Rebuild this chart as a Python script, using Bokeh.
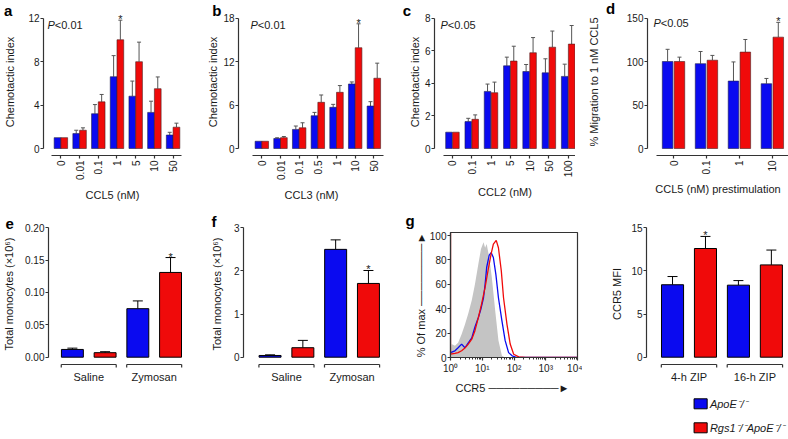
import math
from bokeh.plotting import figure
from bokeh.models import (ColumnDataSource, Whisker, TeeHead, Label, FixedTicker, Range1d)
from bokeh.layouts import row, column
from bokeh.embed import file_html
from bokeh.resources import INLINE
from bokeh.core.properties import value

FONT = "Liberation Sans"
BLUE = "#0a0af0"
RED = "#f00a0a"
INK = "#1a1a1a"
AXIS = "#333333"

# ---------------- data ----------------
a_conc = ["0", "0.01", "0.1", "1", "5", "10", "50"]
a_blue = [1.0, 1.37, 3.2, 6.6, 4.81, 3.32, 1.24]
a_blue_err = [0.0, 0.31, 0.84, 1.94, 1.39, 1.03, 0.25]
a_red = [1.0, 1.68, 4.29, 10.0, 7.98, 5.5, 1.96]
a_red_err = [0.0, 0.22, 0.68, 1.8, 1.8, 1.08, 0.37]
a_star = [3]
a_yticks = [0, 4, 8, 12]

b_conc = ["0", "0.01", "0.1", "0.5", "1", "10", "50"]
b_blue = [1.0, 1.38, 2.63, 4.52, 5.68, 8.9, 5.86]
b_blue_err = [0.0, 0.1, 0.47, 0.46, 0.41, 0.28, 0.6]
b_red = [1.0, 1.5, 2.86, 6.37, 7.75, 13.9, 9.69]
b_red_err = [0.0, 0.15, 0.69, 1.01, 0.93, 3.3, 2.08]
b_star = [5]
b_yticks = [0, 6, 12, 18]

c_conc = ["0", "0.1", "1", "5", "10", "50", "100"]
c_blue = [1.0, 1.65, 3.5, 5.07, 4.72, 4.64, 4.42]
c_blue_err = [0.0, 0.2, 0.45, 0.53, 0.43, 0.86, 0.75]
c_red = [1.0, 1.79, 3.42, 5.36, 5.87, 6.21, 6.4]
c_red_err = [0.0, 0.27, 0.65, 0.91, 0.93, 0.99, 1.14]
c_star = []
c_yticks = [0, 2, 4, 6, 8]

d_conc = ["0", "0.1", "1", "10"]
d_blue = [100, 97.5, 77.5, 74.5]
d_blue_err = [14, 14, 22, 6]
d_red = [100, 101.5, 110.8, 128]
d_red_err = [5, 5.5, 14.5, 17]
d_star = [3]
d_yticks = [0, 50, 100, 150]

e_groups = ["Saline", "Zymosan"]
e_blue = [0.012, 0.075]
e_blue_err = [0.002, 0.012]
e_red = [0.007, 0.131]
e_red_err = [0.0015, 0.023]
e_star = [1]
e_yticks = [0, 0.05, 0.10, 0.15, 0.20]
e_ytick_labels = ["0.00", "0.05", "0.10", "0.15", "0.20"]

f_groups = ["Saline", "Zymosan"]
f_blue = [0.04, 2.5]
f_blue_err = [0.015, 0.22]
f_red = [0.22, 1.71]
f_red_err = [0.17, 0.3]
f_star = [1]
f_yticks = [0, 1, 2, 3]
f_ytick_labels = ["0", "1", "2", "3"]

h_groups = ["4-h ZIP", "16-h ZIP"]
h_blue = [8.4, 8.35]
h_blue_err = [0.95, 0.53]
h_red = [12.6, 10.7]
h_red_err = [1.4, 1.72]
h_star = [0]
h_yticks = [0, 5, 10, 15]
h_ytick_labels = ["0", "5", "10", "15"]

# flow cytometry histogram (log10 CCR5 intensity, % of max)
g_iso_log = [0.0, 0.03, 0.14, 0.24, 0.35, 0.455, 0.56, 0.67, 0.77, 0.88, 0.96, 1.04,
             1.09, 1.14, 1.22, 1.30, 1.41, 1.51, 1.62, 1.72]
g_iso_pct = [4, 11, 9.6, 12, 19, 27, 36, 47, 60, 77, 89, 94.5, 90, 93, 82, 66, 38, 14, 1.4, 0]
g_apoe_log = [0.0, 0.14, 0.24, 0.35, 0.455, 0.56, 0.67, 0.77, 0.88, 0.96, 1.04, 1.09, 1.14,
              1.22, 1.28, 1.35, 1.43, 1.51, 1.62, 1.72, 1.83, 1.94, 2.1, 4.0]
g_apoe_pct = [4, 5.5, 8, 11, 8, 12, 16, 25, 33, 40, 49, 60, 74, 84, 86, 82, 68, 49, 30, 14,
              4, 1.4, 0, 0]
g_rgs_log = [0.0, 0.0, 0.14, 0.24, 0.35, 0.455, 0.56, 0.67, 0.77, 0.88, 0.98, 1.09, 1.2, 1.28,
             1.35, 1.44, 1.51, 1.6, 1.67, 1.78, 1.88, 1.99, 2.15, 2.36, 4.0]
g_rgs_pct = [102, 2.7, 3.3, 4, 5.5, 7.7, 11, 15, 22, 33, 44, 57.5, 74, 85, 93, 96, 90, 71, 49,
             27, 11, 2.7, 0.5, 0, 0]
g_xticks = [1, 10, 100, 1000, 10000]
g_xtick_labels = ["10\u2070", "10\u00b9", "10\u00b2", "10\u00b3", "10\u2074"]
g_yticks = [0, 20, 40, 60, 80, 100]

legend_labels = ["ApoE\u207b/\u207b", "Rgs1\u207b/\u207bApoE\u207b/\u207b"]
legend_colors = [BLUE, RED]


# ---------------- helpers ----------------
class Frame:
    """pixel -> data mapping of a figure's frame (for placing annotations)."""
    def __init__(self, width, height, left, right, top, bottom, xr, yr, logx=False):
        self.fl, self.fr = left, width - right
        self.ft, self.fb = top, height - bottom
        self.xr, self.yr, self.logx = xr, yr, logx

    def x(self, px):
        x0, x1 = self.xr
        if self.logx:
            x0, x1 = math.log10(x0), math.log10(x1)
        v = x0 + (px - self.fl) * (x1 - x0) / (self.fr - self.fl)
        return 10 ** v if self.logx else v

    def y(self, py):
        y0, y1 = self.yr
        return y0 + (self.fb - py) * (y1 - y0) / (self.fb - self.ft)


def style_axes(p):
    p.grid.visible = False
    p.outline_line_color = None
    for ax in p.axis:
        ax.axis_line_color = AXIS
        ax.axis_line_width = 1.2
        ax.major_tick_line_color = AXIS
        ax.major_tick_line_width = 1.2
        ax.major_tick_in = 0
        ax.major_tick_out = 3
        ax.minor_tick_line_color = None
        ax.major_label_text_font = FONT
        ax.major_label_text_font_size = "10px"
        ax.major_label_text_color = INK
        ax.major_label_standoff = 1
        ax.axis_label_text_font = FONT
        ax.axis_label_text_font_size = "11px"
        ax.axis_label_text_font_style = "normal"
        ax.axis_label_text_color = INK


def add_letter(p, fr, letter, px, py, side):
    p.add_layout(Label(x=fr.x(px), y=fr.y(py), text=letter, text_font=FONT,
                       text_font_size="15px", text_font_style="bold", text_color="black",
                       text_baseline="alphabetic"), side)


def add_pvalue(p, text, x_off, y_data):
    p.add_layout(Label(x=x_off, y=y_data, x_units="screen", y_units="data", text="P",
                       text_font=FONT, text_font_size="11px", text_font_style="italic",
                       text_color=INK, text_baseline="middle"))
    p.add_layout(Label(x=x_off + 7.3, y=y_data, x_units="screen", y_units="data", text=text,
                       text_font=FONT, text_font_size="11px", text_color=INK,
                       text_baseline="middle"))


def add_errors(p, xs, means, errs, color, cap, lw):
    keep = [i for i, e in enumerate(errs) if e > 0]
    src = ColumnDataSource(dict(x=[xs[i] for i in keep],
                                lower=[means[i] for i in keep],
                                upper=[means[i] + errs[i] for i in keep]))
    p.add_layout(Whisker(source=src, base="x", lower="lower", upper="upper",
                         dimension="height", line_color=color, line_width=lw,
                         lower_head=None,
                         upper_head=TeeHead(size=cap, line_color=color, line_width=lw)))


def add_stars(p, xs, means, errs, idxs):
    if not idxs:
        return
    p.text(x=[xs[i] for i in idxs], y=[means[i] + errs[i] for i in idxs],
           text=["*"] * len(idxs), text_align="center", text_baseline="alphabetic",
           text_font=value(FONT), text_font_size="11px", text_color=INK, y_offset=-1)


TOP_H = 205
TOP_FT = 8
TOP_FB = 50


def top_panel(cats, blue, blue_err, red, red_err, stars, yticks, ylabel, xlabel, pval,
              width, left, right, xr, ax0, ax1, bar_w, off, ylab_standoff, p_x, p_y,
              letter, lx, ly, letter_side="left"):
    ytop = yticks[-1]
    yr = (-0.0536 * ytop, 1.0728 * ytop)
    p = figure(width=width, height=TOP_H, output_backend="svg", toolbar_location=None,
               x_range=Range1d(*xr), y_range=Range1d(*yr),
               min_border_left=left, min_border_right=right, min_border_top=TOP_FT,
               min_border_bottom=TOP_FB)
    fr = Frame(width, TOP_H, left, right, TOP_FT, TOP_FB, xr, yr)
    idx = list(range(len(cats)))
    bx = [i - off for i in idx]
    rx = [i + off for i in idx]
    p.vbar(x=bx, top=blue, bottom=0, width=bar_w, fill_color=BLUE, line_color="#20204a",
           line_width=0.6)
    p.vbar(x=rx, top=red, bottom=0, width=bar_w, fill_color=RED, line_color="#4a2020",
           line_width=0.6)
    add_errors(p, bx, blue, blue_err, "#555555", 4, 1)
    add_errors(p, rx, red, red_err, "#555555", 4, 1)
    add_stars(p, rx, red, red_err, stars)
    style_axes(p)
    p.xaxis.bounds = (ax0, ax1)
    p.xaxis.ticker = FixedTicker(ticks=idx)
    p.xaxis.major_label_overrides = {i: c for i, c in enumerate(cats)}
    p.xaxis.major_label_orientation = math.pi / 2
    p.xaxis.major_label_standoff = 2
    p.xaxis.axis_label = xlabel
    p.xaxis.axis_label_standoff = 6
    p.yaxis.bounds = (0, ytop)
    p.yaxis.ticker = FixedTicker(ticks=yticks)
    p.yaxis.axis_label = ylabel
    p.yaxis.axis_label_standoff = ylab_standoff
    add_pvalue(p, pval, p_x, p_y * ytop)
    add_letter(p, fr, letter, lx, ly, letter_side)
    return p


BOT_FT = 14


def bottom_panel(groups, blue, blue_err, red, red_err, stars, yticks, ytick_labels, ylabel,
                 width, height, left, bottom_border, xr, ylab_standoff, letter=None, lx=0, ly=0):
    T = yticks[-1]
    yr = (-0.0873 * T, 1.0641 * T)
    p = figure(width=width, height=height, output_backend="svg", toolbar_location=None,
               x_range=Range1d(*xr), y_range=Range1d(*yr),
               min_border_left=left, min_border_right=0, min_border_top=BOT_FT,
               min_border_bottom=bottom_border)
    fr = Frame(width, height, left, 0, BOT_FT, bottom_border, xr, yr)
    bx = [2 * g for g in range(len(groups))]
    rx = [2 * g + 1 for g in range(len(groups))]
    p.vbar(x=bx, top=blue, bottom=0, width=0.67, fill_color=BLUE, line_color="black",
           line_width=1)
    p.vbar(x=rx, top=red, bottom=0, width=0.67, fill_color=RED, line_color="black",
           line_width=1)
    add_errors(p, bx, blue, blue_err, "black", 10, 1)
    add_errors(p, rx, red, red_err, "black", 10, 1)
    add_stars(p, rx, red, red_err, stars)
    # group brackets
    yb = -0.0564 * T
    yt = -0.0796 * T
    x0 = [b - 0.34 for b in bx]
    x1 = [r + 0.34 for r in rx]
    n = len(x0)
    p.segment(x0=x0, y0=[yb] * n, x1=x1, y1=[yb] * n, line_color=AXIS, line_width=1.2)
    p.segment(x0=x0 + x1, y0=[yb] * (2 * n), x1=x0 + x1, y1=[yt] * (2 * n),
              line_color=AXIS, line_width=1.2)
    style_axes(p)
    centers = [2 * g + 0.5 for g in range(len(groups))]
    p.xaxis.ticker = FixedTicker(ticks=centers)
    p.xaxis.major_label_overrides = {c: g for c, g in zip(centers, groups)}
    p.xaxis.axis_line_color = None
    p.xaxis.major_tick_line_color = None
    p.xaxis.major_tick_out = 0
    p.xaxis.major_label_standoff = 2
    p.xaxis.major_label_text_font_size = "11px"
    p.yaxis.bounds = (0, T)
    p.yaxis.ticker = FixedTicker(ticks=yticks)
    p.yaxis.major_label_overrides = {t: s for t, s in zip(yticks, ytick_labels)}
    p.yaxis.axis_label = ylabel
    p.yaxis.axis_label_standoff = ylab_standoff
    if letter:
        add_letter(p, fr, letter, lx, ly, "below")
    return p


# ---------------- top row ----------------
pa = top_panel(a_conc, a_blue, a_blue_err, a_red, a_red_err, a_star, a_yticks,
               "Chemotactic index", "CCL5 (nM)", "<0.01",
               width=190, left=43, right=9, xr=(-0.93, 6.45), ax0=-0.5, ax1=6.45,
               bar_w=0.36, off=0.18, ylab_standoff=9, p_x=4, p_y=0.95,
               letter="a", lx=3.5, ly=10, letter_side="right")
pb = top_panel(b_conc, b_blue, b_blue_err, b_red, b_red_err, b_star, b_yticks,
               "Chemotactic index", "CCL3 (nM)", "<0.01",
               width=195, left=48, right=1, xr=(-1.25, 6.57), ax0=-0.5, ax1=6.52,
               bar_w=0.36, off=0.18, ylab_standoff=1, p_x=12, p_y=0.95,
               letter="b", lx=21.7, ly=10)
pc = top_panel(c_conc, c_blue, c_blue_err, c_red, c_red_err, c_star, c_yticks,
               "Chemotactic index", "CCL2 (nM)", "<0.05",
               width=190, left=49, right=0, xr=(-0.93, 6.38), ax0=-0.47, ax1=6.38,
               bar_w=0.34, off=0.18, ylab_standoff=1, p_x=6, p_y=0.95,
               letter="c", lx=17.3, ly=10)
pd = top_panel(d_conc, d_blue, d_blue_err, d_red, d_red_err, d_star, d_yticks,
               "% Migration to 1 nM CCL5", "CCL5 (nM) prestimulation", "<0.05",
               width=213, left=71, right=0, xr=(-0.79, 3.49), ax0=-0.52, ax1=3.49,
               bar_w=0.32, off=0.18, ylab_standoff=24, p_x=6, p_y=0.96,
               letter="d", lx=29.3, ly=8)

# ---------------- bottom row ----------------
pe = bottom_panel(e_groups, e_blue, e_blue_err, e_red, e_red_err, e_star, e_yticks,
                  e_ytick_labels, "Total monocytes (\u00d710\u2076)", width=190, height=234,
                  left=48, bottom_border=71, xr=(-0.73, 3.61), ylab_standoff=7,
                  letter="e", lx=5, ly=18)
pf = bottom_panel(f_groups, f_blue, f_blue_err, f_red, f_red_err, f_star, f_yticks,
                  f_ytick_labels, "Total monocytes (\u00d710\u2076)", width=195, height=234,
                  left=53, bottom_border=71, xr=(-0.81, 3.52), ylab_standoff=8,
                  letter="f", lx=21, ly=16)
ph = bottom_panel(h_groups, h_blue, h_blue_err, h_red, h_red_err, h_star, h_yticks,
                  h_ytick_labels, "CCR5 MFI", width=206, height=180,
                  left=64, bottom_border=17, xr=(-0.79, 3.52), ylab_standoff=5)

# flow histogram g
G_W, G_H, G_L, G_R, G_T, G_B = 197, 234, 65, 5, 27, 82
g_xr = (1, 1e4)
g_yr = (0, 102.5)
pg = figure(width=G_W, height=G_H, output_backend="svg", toolbar_location=None,
            x_axis_type="log", x_range=Range1d(*g_xr), y_range=Range1d(*g_yr),
            min_border_left=G_L, min_border_right=G_R, min_border_top=G_T,
            min_border_bottom=G_B)
g_fr = Frame(G_W, G_H, G_L, G_R, G_T, G_B, g_xr, g_yr, logx=True)
pg.varea(x=[10 ** v for v in g_iso_log], y1=0, y2=g_iso_pct, fill_color="#c4c4c4")
pg.line(x=[10 ** v for v in g_apoe_log], y=g_apoe_pct, line_color=BLUE, line_width=1.3)
pg.line(x=[10 ** v for v in g_rgs_log], y=g_rgs_pct, line_color=RED, line_width=1.3)
style_axes(pg)
pg.outline_line_color = AXIS
pg.outline_line_width = 1.2
pg.xaxis.ticker = FixedTicker(ticks=g_xticks,
                              minor_ticks=[m * d for d in g_xticks[:-1] for m in range(2, 10)])
pg.xaxis.major_label_overrides = {t: s for t, s in zip(g_xticks, g_xtick_labels)}
pg.xaxis.minor_tick_line_color = AXIS
pg.xaxis.minor_tick_out = 2
pg.xaxis.minor_tick_in = 0
pg.xaxis.major_label_standoff = 2
pg.xaxis.axis_label = "CCR5  " + "\u2500" * 9 + "\u25ba"
pg.xaxis.axis_label_standoff = 5
pg.yaxis.ticker = FixedTicker(ticks=g_yticks)
pg.yaxis.axis_label = "% Of max " + "\u2500" * 8 + "\u25ba"
pg.yaxis.axis_label_standoff = 0
add_letter(pg, g_fr, "g", 20, 15, "below")

# legend (swatches + labels) under h
leg = figure(width=206, height=54, output_backend="svg", toolbar_location=None,
             x_range=Range1d(0, 206), y_range=Range1d(54, 0), min_border=0,
             x_axis_location=None, y_axis_location=None)
leg.grid.visible = False
leg.outline_line_color = None
rows_y = [18.3 + 24 * i for i in range(len(legend_labels))]
leg.quad(left=[69] * len(rows_y), right=[88] * len(rows_y), top=[y - 5 for y in rows_y],
         bottom=[y + 5 for y in rows_y], fill_color=legend_colors, line_color="black",
         line_width=1)
leg.text(x=[92] * len(rows_y), y=rows_y, text=legend_labels, text_baseline="middle",
         text_font=value(FONT), text_font_size="11px", text_font_style="italic",
         text_color=INK)

# each bottom panel in its own column so that their frames are not aligned with each other
layout = column(row(pa, pb, pc, pd),
                row(column(pe), column(pf), column(pg), column(ph, leg)))
open("out.html", "w").write(file_html(layout, INLINE))
